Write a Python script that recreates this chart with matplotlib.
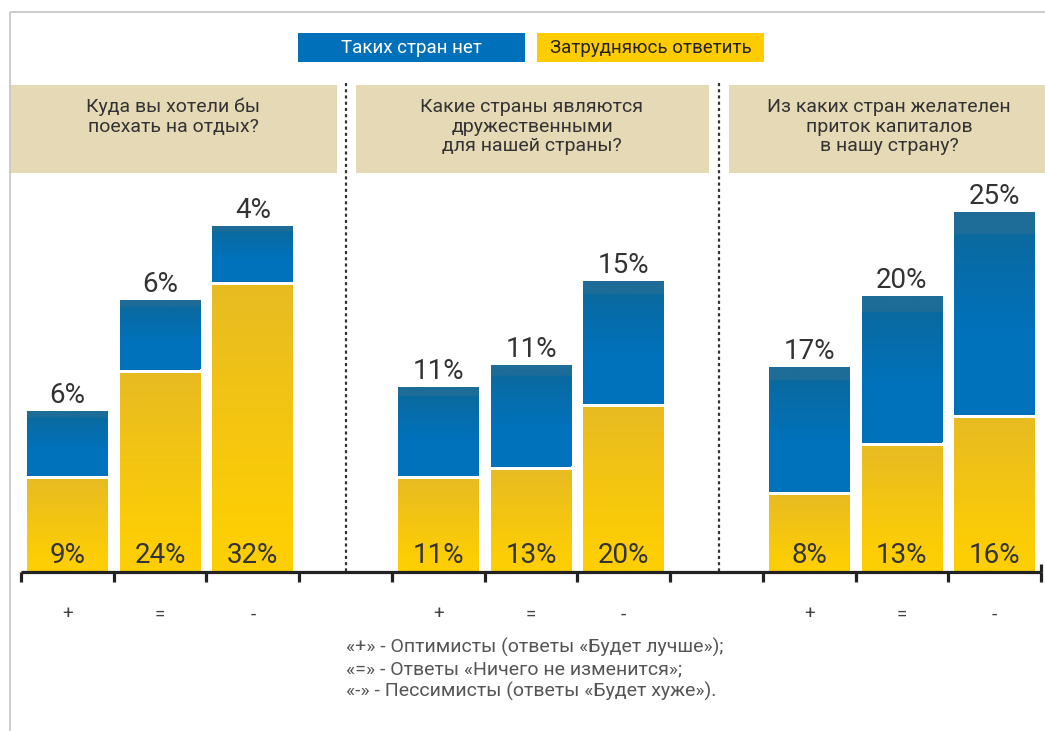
import numpy as np
import matplotlib
matplotlib.use("Agg")
import matplotlib.pyplot as plt
from matplotlib.patches import Rectangle
from matplotlib.ticker import FixedLocator, NullFormatter, FixedFormatter

plt.rcParams['font.family'] = ['Roboto', 'DejaVu Sans']

# ---------------- data ----------------
questions = ["Куда вы хотели бы\nпоехать на отдых?",
             "Какие страны являются\nдружественными\nдля нашей страны?",
             "Из каких стран желателен\nприток капиталов\nв нашу страну?"]
categories = ["+", "=", "-"]
legend_labels = ["Таких стран нет", "Затрудняюсь ответить"]

# printed values (%)
pct_no_such = [6, 6, 4, 11, 11, 15, 17, 20, 25]        # blue, "Таких стран нет"
pct_hard = [9, 24, 32, 11, 13, 20, 8, 13, 16]          # yellow, "Затрудняюсь ответить"

# bar heights as drawn in the source picture (not to scale with the printed %)
yellow_drawn = [93, 199, 287, 93, 102, 165, 77, 126, 154]
blue_top_drawn = [161, 272, 346, 185, 207, 291, 205, 276, 360]

footnote = ["«+» - Оптимисты (ответы «Будет лучше»);",
            "«=» - Ответы «Ничего не изменится»;",
            "«-» - Пессимисты (ответы «Будет хуже»)."]

# ---------------- styling ----------------
W, H = 1045, 731
BLUE = "#0070BA"
YELLOW = "#FFCC00"
BEIGE = "#E5D9B6"
TXT = "#333333"

fig = plt.figure(figsize=(W / 100, H / 100), dpi=100)
fig.patch.set_facecolor("white")

# overlay in pixel coordinates for decorations
ov = fig.add_axes([0, 0, 1, 1], zorder=0)
ov.set_xlim(0, W)
ov.set_ylim(H, 0)
ov.axis("off")

# frame
ov.plot([10, 10], [12, H], color="#c8c8c8", lw=1.3, solid_capstyle="butt")
ov.plot([10, W], [12, 12], color="#c8c8c8", lw=1.3, solid_capstyle="butt")

# legend boxes
leg_boxes = [(298, 525, BLUE, "white"), (537, 764, YELLOW, "#222222")]
for (x0, x1, fc, tc), lab in zip(leg_boxes, legend_labels):
    ov.add_patch(Rectangle((x0, 33), x1 - x0, 29, facecolor=fc, edgecolor="none"))
    ov.text((x0 + x1) / 2, 48, lab, ha="center", va="center", color=tc, fontsize=13.5)

# header boxes
hdr = [(10, 337), (356, 709), (729, W + 5)]
hdr_cx = [173, 532, 889]
for (x0, x1), cx, q in zip(hdr, hdr_cx, questions):
    ov.add_patch(Rectangle((x0, 85), x1 - x0, 88, facecolor=BEIGE, edgecolor="none"))
    ov.text(cx, 98, q, ha="center", va="top", color=TXT, fontsize=14,
            linespacing=1.12, multialignment="center")

# dotted separators
for x in (346, 719):
    ov.plot([x, x], [83, 572], color="#333333", lw=1.6, linestyle=(0, (1.4, 1.4)))

# footnote
for i, line in enumerate(footnote):
    ov.text(346, 647 + i * 22, line, ha="left", va="center", color="#555555", fontsize=14)

# ---------------- main axes ----------------
base_px = 572
top_px = 12
ax = fig.add_axes([21 / W, (H - base_px) / H, 1020 / W, (base_px - top_px) / H], zorder=1)
ax.patch.set_alpha(0)
ax.set_xlim(0, 11)
ax.set_ylim(0, base_px - top_px)
for s in ("top", "left", "right"):
    ax.spines[s].set_visible(False)
ax.spines["bottom"].set_linewidth(2.3)
ax.spines["bottom"].set_color("#222222")
ax.spines["bottom"].set_capstyle("butt")
ax.yaxis.set_visible(False)

n_groups = len(questions)
xpos = np.array([4 * g + i + 0.5 for g in range(n_groups) for i in range(len(categories))])
bar_w = 0.87
gap = 3.5

ax.xaxis.set_major_locator(FixedLocator(np.arange(0, 12)))
ax.xaxis.set_major_formatter(NullFormatter())
ax.xaxis.set_minor_locator(FixedLocator(xpos))
ax.xaxis.set_minor_formatter(FixedFormatter(categories * n_groups))
ax.tick_params(axis="x", which="major", direction="out", length=7, width=2.3, color="#222222")
ax.tick_params(axis="x", which="minor", length=0, pad=24, labelsize=13.5, labelcolor="#444444")

# right end upward tick
ax.plot([11, 11], [0, 8], color="#222222", lw=2.3, solid_capstyle="butt", clip_on=False)

def gradient_fill(rect, kind):
    n = 256
    t = np.linspace(0, 1, n)[:, None]  # 0 = top, 1 = bottom
    if kind == "yellow":
        top = np.array([232, 187, 34]) / 255
        bot = np.array([253, 206, 4]) / 255
        f = np.clip(t / 0.85, 0, 1)
        col = top + (bot - top) * f
    else:
        band = np.array([30, 108, 152]) / 255
        mid = np.array([10, 106, 160]) / 255
        bot = np.array([0, 114, 188]) / 255
        f = np.clip((t - 0.12) / 0.5, 0, 1)
        col = mid + (bot - mid) * f
        col = np.where(t < 0.11, band, col)
    img = col[:, None, :] * np.ones((1, 2, 1))
    x0, y0 = rect.get_x(), rect.get_y()
    w, h = rect.get_width(), rect.get_height()
    im = ax.imshow(img, extent=[x0, x0 + w, y0, y0 + h], origin="upper",
                   aspect="auto", interpolation="bilinear", zorder=2)
    im.set_clip_path(rect)

ybars = ax.bar(xpos, yellow_drawn, width=bar_w, color=YELLOW, zorder=1)
blue_bottom = np.array(yellow_drawn) + gap
bbars = ax.bar(xpos, np.array(blue_top_drawn) - blue_bottom, bottom=blue_bottom,
               width=bar_w, color=BLUE, zorder=1)
for r in ybars:
    gradient_fill(r, "yellow")
for r in bbars:
    gradient_fill(r, "blue")

ax.set_xlim(0, 11)
ax.set_ylim(0, base_px - top_px)

for x, yv, bt, bv in zip(xpos, pct_hard, blue_top_drawn, pct_no_such):
    ax.text(x, 9, f"{yv}%", ha="center", va="baseline", fontsize=20, color=TXT, zorder=3)
    ax.text(x, bt + 8, f"{bv}%", ha="center", va="baseline", fontsize=20, color=TXT, zorder=3)

fig.savefig("out.png", dpi=100)
